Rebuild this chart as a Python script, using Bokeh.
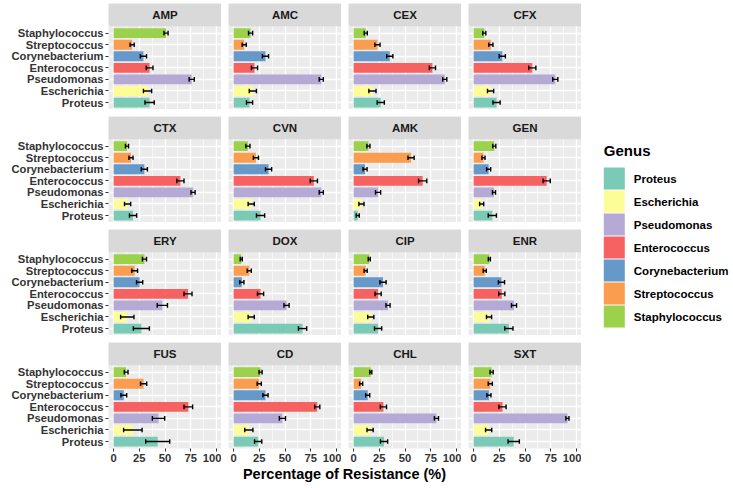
from bokeh.plotting import figure
from bokeh.models import (ColumnDataSource, FixedTicker, LinearAxis, BoxAnnotation, Label,
                          Range1d, Div, Spacer)
from bokeh.core.properties import value
from bokeh.layouts import row, column
from bokeh.embed import file_html
from bokeh.resources import INLINE

# ---------------- data ----------------
antibiotics = ["AMP", "AMC", "CEX", "CFX", "CTX", "CVN", "AMK", "GEN",
               "ERY", "DOX", "CIP", "ENR", "FUS", "CD", "CHL", "SXT"]
genera = ["Proteus", "Escherichia", "Pseudomonas", "Enterococcus",
          "Corynebacterium", "Streptococcus", "Staphylococcus"]
colors = ["#7ACAB6", "#FDFD98", "#B5AAD6", "#F66262", "#6698CA", "#FA9D4E", "#9BD14B"]

# mean resistance (%) per genus, in the order of `antibiotics`
proteus         = [35.0, 15.5, 26.4, 22.3, 18.9, 26.2, 4.0, 18.2, 27.0, 67.1, 23.8, 34.3, 42.9, 23.9, 29.6, 39.0]
escherichia     = [33.0, 18.7, 18.3, 16.5, 13.6, 17.1, 7.6, 7.8, 13.3, 17.1, 16.7, 15.0, 18.7, 14.8, 16.0, 14.6]
pseudomonas     = [76.0, 85.3, 88.7, 79.5, 77.3, 85.3, 23.8, 19.8, 47.4, 51.5, 33.5, 39.3, 43.7, 47.5, 80.6, 91.3]
enterococcus    = [35.0, 20.3, 76.7, 57.1, 65.0, 78.1, 67.2, 71.1, 72.4, 26.2, 23.8, 27.4, 72.7, 81.4, 29.0, 28.1]
corynebacterium = [29.0, 31.0, 35.2, 27.9, 29.9, 34.0, 11.1, 14.6, 25.3, 8.0, 28.6, 27.1, 9.9, 31.0, 13.7, 14.9]
streptococcus   = [18.0, 10.3, 23.2, 16.8, 16.9, 21.7, 55.9, 9.6, 20.5, 15.2, 11.7, 10.8, 29.2, 24.9, 7.3, 16.2]
staphylococcus  = [51.0, 16.5, 11.8, 10.4, 13.0, 13.9, 14.4, 20.1, 30.0, 7.4, 15.2, 15.3, 12.2, 26.2, 16.7, 17.5]

# error (+/-) per genus
proteus_err         = [4.5, 3.0, 3.5, 3.5, 3.5, 4.0, 1.5, 4.0, 7.8, 4.0, 3.5, 4.0, 11.7, 3.5, 3.5, 5.5]
escherichia_err     = [4.0, 3.5, 3.5, 3.0, 3.0, 3.0, 2.5, 2.0, 6.5, 3.0, 3.0, 2.5, 9.0, 4.0, 3.0, 3.0]
pseudomonas_err     = [2.5, 2.0, 2.0, 2.5, 2.0, 2.0, 2.5, 1.5, 5.0, 2.5, 2.0, 2.5, 6.0, 3.0, 2.0, 1.5]
enterococcus_err    = [3.3, 3.0, 3.0, 3.5, 3.5, 3.5, 4.0, 3.5, 3.9, 3.0, 3.0, 3.0, 4.2, 2.5, 3.0, 3.5]
corynebacterium_err = [3.0, 3.0, 3.0, 3.0, 3.0, 3.0, 2.0, 2.0, 3.0, 2.0, 3.0, 3.0, 2.8, 2.5, 2.0, 2.0]
streptococcus_err   = [2.0, 2.0, 2.5, 2.0, 2.0, 2.5, 3.0, 1.5, 2.8, 2.0, 1.5, 1.5, 3.0, 2.0, 1.5, 2.0]
staphylococcus_err  = [2.0, 2.0, 1.5, 1.5, 1.5, 2.0, 1.5, 1.5, 2.0, 1.0, 1.0, 1.0, 1.8, 1.5, 1.0, 1.5]

x_ticks = [0, 25, 50, 75, 100]
x_minor = [12.5, 37.5, 62.5, 87.5]

means = [proteus, escherichia, pseudomonas, enterococcus, corynebacterium, streptococcus, staphylococcus]
errs = [proteus_err, escherichia_err, pseudomonas_err, enterococcus_err,
        corynebacterium_err, streptococcus_err, staphylococcus_err]

# ---------------- layout constants ----------------
FONT = "Liberation Sans"
FRAME_W = 113
FRAME_H = 106
PANEL_PX = 83.3
UNIT_PX = PANEL_PX / 7.2
Y0 = 0.4
Y_PANEL_TOP = 7.6
Y_TOP = Y_PANEL_TOP + (FRAME_H - PANEL_PX) / UNIT_PX
LEFT_BORDER = 100
GAP = 7
CAP = 0.2
BAR_H = 0.85


def style_axis(ax):
    ax.axis_line_color = None
    ax.major_tick_line_color = "#333333"
    ax.major_tick_line_width = 1
    ax.major_tick_out = 3
    ax.major_tick_in = 0
    ax.minor_tick_line_color = None
    ax.major_label_text_font = FONT
    ax.major_label_text_font_style = "bold"
    ax.major_label_text_font_size = "11.2px"
    ax.major_label_text_color = "#333333"
    ax.major_label_standoff = 2


def make_panel(k, r, c):
    ab = antibiotics[k]
    ys = list(range(1, len(genera) + 1))
    vals = [m[k] for m in means]
    es = [e[k] for e in errs]
    src = ColumnDataSource(dict(
        y=ys, val=vals, color=colors,
        lo=[v - e for v, e in zip(vals, es)],
        hi=[v + e for v, e in zip(vals, es)],
        c0=[y - CAP for y in ys], c1=[y + CAP for y in ys],
    ))
    p = figure(frame_width=FRAME_W, frame_height=FRAME_H,
               x_range=Range1d(-5, 105), y_range=Range1d(Y0, Y_TOP),
               x_axis_location=None, y_axis_location=None,
               toolbar_location=None, output_backend="svg",
               min_border=0, min_border_left=(LEFT_BORDER if c == 0 else 0),
               background_fill_color="#EBEBEB", border_fill_color="white",
               outline_line_color=None)
    p.xgrid.ticker = FixedTicker(ticks=x_ticks, minor_ticks=x_minor)
    p.ygrid.ticker = FixedTicker(ticks=ys)
    for g in (p.xgrid, p.ygrid):
        g.grid_line_color = "white"
        g.grid_line_width = 1.3
    p.xgrid.minor_grid_line_color = "white"
    p.xgrid.minor_grid_line_width = 0.6

    p.hbar(y="y", right="val", left=0, height=BAR_H, fill_color="color",
           line_color=None, source=src)
    p.segment(x0="lo", y0="y", x1="hi", y1="y", line_color="black", line_width=1.4, source=src)
    p.segment(x0="lo", y0="c0", x1="lo", y1="c1", line_color="black", line_width=1.4, source=src)
    p.segment(x0="hi", y0="c0", x1="hi", y1="c1", line_color="black", line_width=1.4, source=src)

    p.add_layout(BoxAnnotation(bottom=Y_PANEL_TOP, fill_color="#D9D9D9", fill_alpha=1.0,
                               line_color=None))
    p.add_layout(Label(x=50, y=(Y_PANEL_TOP + Y_TOP) / 2, text=ab, text_align="center",
                       text_baseline="middle", text_font=FONT, text_font_style="bold",
                       text_font_size="11.5px", text_color="#1A1A1A"))

    if c == 0:
        yax = LinearAxis(ticker=FixedTicker(ticks=ys),
                         major_label_overrides={y: g for y, g in zip(ys, genera)})
        style_axis(yax)
        p.add_layout(yax, "left")
    if r == 3:
        xax = LinearAxis(ticker=FixedTicker(ticks=x_ticks))
        style_axis(xax)
        p.add_layout(xax, "below")
    return p


rows = []
for r in range(4):
    figs = [make_panel(r * 4 + c, r, c) for c in range(4)]
    rows.append(row(figs, spacing=GAP))
grid = column(rows, spacing=GAP)

xtitle = Div(text="Percentage of Resistance (%)", width=473, height=20, margin=0,
             styles={"font-family": FONT, "font-weight": "bold", "font-size": "14.5px",
                     "text-align": "center", "color": "black", "line-height": "20px",
                     "white-space": "nowrap"})
left_block = column(grid, row(Spacer(width=LEFT_BORDER, height=20), xtitle))

# ---------------- legend (drawn from genera / colors) ----------------
LW, LH = 130, 200
KEY_W, KEY_H, KEY_PITCH, KEY_TOP, KEY_X = 21, 22, 23, 27, 3.3
lf = figure(width=LW, height=LH, x_range=Range1d(0, LW), y_range=Range1d(LH, 0),
            toolbar_location=None, output_backend="svg", min_border=0,
            x_axis_location=None, y_axis_location=None, outline_line_color=None,
            background_fill_color=None, border_fill_color=None)
lf.xgrid.visible = False
lf.ygrid.visible = False
idx = list(range(len(genera)))
lsrc = ColumnDataSource(dict(
    x=[KEY_X + KEY_W / 2] * len(genera),
    y=[KEY_TOP + KEY_H / 2 + i * KEY_PITCH for i in idx],
    tx=[KEY_X + KEY_W + 9] * len(genera),
    label=genera, color=colors,
))
lf.rect(x="x", y="y", width=KEY_W, height=KEY_H, fill_color="color", line_color=None, source=lsrc)
lf.text(x="tx", y="y", text="label", text_font=value(FONT), text_font_style="bold",
        text_font_size="11.5px", text_color="black", text_baseline="middle",
        text_align="left", source=lsrc)
lf.text(x=[KEY_X], y=[10], text=["Genus"], text_font=value(FONT), text_font_style="bold",
        text_font_size="15px", text_color="black", text_baseline="middle", text_align="left")
legend_block = column(Spacer(width=LW, height=137), lf)

page = row(left_block, Spacer(width=19, height=10), legend_block, margin=(3, 0, 0, 8))

open("out.html", "w").write(file_html(page, INLINE))
